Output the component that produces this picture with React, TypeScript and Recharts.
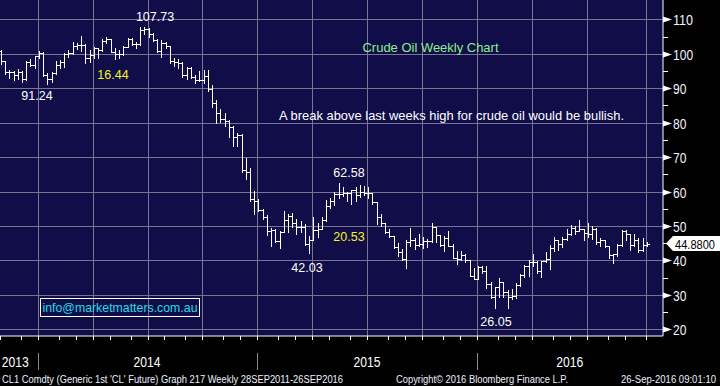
import React from "react";
import { ComposedChart, Bar, XAxis, YAxis } from "recharts";

// weekly CL1 bars, first bar = week of 25 Oct 2013, last = week of 26 Sep 2016
const opens = [
  100.8, 97.8, 94.6, 94.6, 93.8, 94.8, 92.7, 97.6, 96.6, 99.3,
  100.3, 93.9, 92.7, 94.4, 96.6, 97.5, 99.9, 100.3, 102.2, 102.6,
  102.6, 98.9, 99.5, 101.7, 101.1, 103.7, 104.3, 100.6, 99.8, 100.0,
  102.0, 104.4, 102.7, 102.7, 106.9, 107.3, 105.7, 104.1, 100.8, 103.1,
  102.1, 97.9, 97.7, 97.4, 93.7, 95.96, 93.3, 92.3, 92.4, 93.5,
  89.7, 85.8, 82.8, 81.0, 80.5, 78.7, 75.8, 76.5, 66.2, 65.8,
  57.8, 57.1, 54.7, 52.7, 48.4, 48.7, 45.6, 48.2, 51.7, 52.8,
  50.8, 49.8, 49.6, 44.8, 46.0, 48.9, 49.1, 51.6, 55.7, 57.2,
  59.2, 59.4, 59.7, 59.7, 60.3, 59.1, 60.0, 59.6, 59.6, 56.9,
  52.7, 50.9, 48.1, 47.1, 43.9, 42.5, 40.45, 45.2, 46.05, 44.6,
  44.7, 45.7, 45.5, 49.6, 47.3, 44.6, 46.6, 44.3, 40.7, 40.4,
  41.7, 39.97, 35.6, 34.7, 38.1, 37.0, 33.2, 29.4, 32.2, 33.6,
  30.9, 29.4, 29.6, 32.8, 35.9, 38.5, 39.4, 39.5, 36.8, 39.7,
  40.4, 43.7, 45.9, 44.7, 46.2, 47.75, 49.3, 48.6, 49.1, 47.98,
  47.6, 48.99, 45.4, 45.95, 44.2, 41.6, 41.8, 44.5, 48.5, 47.6,
  44.4, 45.9, 43.0, 44.5,
];
const highs = [
  101.0, 98.0, 95.3, 95.0, 95.6, 94.9, 97.9, 98.5, 99.4, 100.75,
  100.5, 94.3, 94.6, 97.8, 98.25, 100.2, 101.0, 103.4, 103.1, 105.2,
  102.8, 101.1, 102.0, 101.8, 104.4, 104.99, 104.4, 101.6, 101.0, 102.3,
  104.6, 104.6, 103.4, 107.7, 107.73, 107.5, 106.0, 104.2, 104.0, 103.5,
  102.2, 98.7, 98.4, 97.5, 96.2, 96.1, 93.9, 95.0, 95.2, 95.4,
  90.9, 86.7, 84.0, 82.8, 80.7, 79.0, 77.0, 76.6, 69.8, 66.8,
  60.2, 57.7, 55.0, 53.1, 49.4, 49.0, 48.5, 54.2, 53.5, 53.9,
  52.0, 51.3, 50.5, 47.1, 52.5, 50.9, 52.5, 57.4, 58.0, 59.9,
  62.58, 61.2, 60.0, 60.3, 61.4, 61.8, 61.6, 61.2, 59.7, 56.9,
  53.6, 51.0, 49.2, 47.2, 45.1, 43.2, 45.9, 49.3, 46.4, 47.7,
  46.7, 46.2, 50.9, 49.7, 47.4, 47.0, 48.4, 44.8, 42.6, 42.6,
  42.0, 40.0, 37.9, 38.4, 38.3, 38.4, 33.6, 32.3, 34.8, 33.7,
  31.5, 31.6, 33.4, 36.0, 38.7, 40.2, 41.9, 39.9, 39.8, 42.4,
  44.5, 46.8, 46.0, 46.7, 49.0, 50.2, 50.0, 51.67, 49.2, 50.9,
  49.9, 49.5, 46.5, 46.0, 44.3, 42.0, 44.8, 48.75, 48.9, 47.7,
  47.6, 46.5, 46.6, 45.2,
];
const lows = [
  96.9, 94.1, 93.0, 92.5, 92.6, 91.8, 92.5, 96.5, 96.0, 98.7,
  93.6, 91.24, 91.9, 94.0, 95.9, 96.1, 99.1, 100.0, 101.5, 100.8,
  97.4, 97.7, 98.7, 98.9, 100.8, 103.2, 100.5, 98.6, 98.9, 99.6,
  101.9, 102.4, 101.6, 102.4, 105.6, 104.9, 103.6, 100.6, 99.0, 101.6,
  97.3, 96.3, 95.9, 93.2, 92.6, 92.9, 91.6, 92.0, 91.5, 89.2,
  84.4, 79.8, 80.2, 79.0, 75.8, 73.3, 73.2, 65.7, 63.7, 57.3,
  53.6, 54.3, 52.0, 47.4, 44.2, 45.2, 43.6, 48.2, 48.3, 49.7,
  47.7, 48.2, 44.4, 42.03, 45.8, 46.7, 49.0, 51.5, 55.2, 56.1,
  58.1, 58.7, 57.1, 56.5, 57.2, 58.3, 59.0, 58.0, 56.5, 50.6,
  50.1, 47.9, 46.7, 43.6, 41.4, 40.2, 37.75, 44.1, 43.2, 44.2,
  43.6, 43.9, 45.4, 45.3, 44.3, 42.6, 44.1, 40.6, 38.9, 40.1,
  39.5, 35.4, 34.5, 34.6, 36.3, 32.1, 29.1, 26.19, 29.3, 29.25,
  26.05, 28.7, 29.0, 32.5, 35.3, 35.6, 38.3, 36.3, 35.2, 39.6,
  37.6, 42.8, 43.0, 43.8, 46.0, 47.5, 47.8, 48.5, 45.8, 46.7,
  46.2, 44.8, 44.3, 43.9, 40.6, 39.2, 41.4, 44.2, 46.0, 43.0,
  44.2, 42.5, 42.8, 44.3,
];
const closes = [
  97.85, 94.6, 94.6, 93.8, 94.8, 92.7, 97.65, 96.6, 99.3, 100.3,
  93.96, 92.7, 94.4, 96.6, 97.5, 99.9, 100.3, 102.2, 102.6, 102.6,
  98.9, 99.5, 101.7, 101.1, 103.7, 104.3, 100.6, 99.8, 100.0, 102.0,
  104.4, 102.7, 102.7, 106.9, 107.3, 105.7, 104.1, 100.8, 103.1, 102.1,
  97.9, 97.7, 97.4, 93.7, 95.96, 93.3, 92.3, 92.4, 93.5, 89.7,
  85.8, 82.8, 81.0, 80.5, 78.7, 75.8, 76.5, 66.2, 65.8, 57.8,
  57.1, 54.7, 52.7, 48.4, 48.7, 45.6, 48.2, 51.7, 52.8, 50.8,
  49.8, 49.6, 44.8, 46.0, 48.9, 49.1, 51.6, 55.7, 57.2, 59.2,
  59.4, 59.7, 59.7, 60.3, 59.1, 60.0, 59.6, 59.6, 56.9, 52.7,
  50.9, 48.1, 47.1, 43.9, 42.5, 40.45, 45.2, 46.05, 44.6, 44.7,
  45.7, 45.5, 49.6, 47.3, 44.6, 46.6, 44.3, 40.7, 40.4, 41.7,
  39.97, 35.6, 34.7, 38.1, 37.0, 33.2, 29.4, 32.2, 33.6, 30.9,
  29.4, 29.6, 32.8, 35.9, 38.5, 39.4, 39.5, 36.8, 39.7, 40.4,
  43.7, 45.9, 44.7, 46.2, 47.75, 49.3, 48.6, 49.1, 47.98, 47.6,
  48.99, 45.4, 45.95, 44.2, 41.6, 41.8, 44.5, 48.5, 47.6, 44.4,
  45.9, 43.0, 44.5, 44.88,
];

const lastPrice = 44.88;
const priceTicks = [20, 25, 30, 35, 40, 45, 50, 55, 60, 65, 70, 75, 80, 85, 90, 95, 100, 105, 110];
const gridLevels = [20, 30, 40, 50, 60, 70, 80, 90, 100, 110];
// index of the last weekly bar in each month / quarter
const monthEnds = [0, 5, 9, 14, 18, 22, 26, 31, 35, 39, 44, 48, 53, 57, 61, 66, 70, 74, 78, 83, 87, 92, 96, 100, 105, 109, 113, 118, 122, 126, 131, 135, 139, 144, 148, 153];
const quarterEnds = [9, 22, 35, 48, 61, 74, 87, 100, 113, 126, 139, 153];
const yearEnds = [9, 61, 113];
const years = ["2013", "2014", "2015", "2016"];
const yearMids = [3.4, 34.6, 86.7, 134.7];

const FONT = '"Liberation Sans", Arial, sans-serif';
const PLOT_RIGHT = 663;
const AXIS_Y = 336;
const X_DOMAIN: [number, number] = [-0.237, 156.8];
const Y_DOMAIN: [number, number] = [18.05, 115.6];
const TICK_SHIFT = -0.3;
const GRID = "#77758f";

const rows = closes.map((c, i) => ({
  i,
  range: [lows[i], highs[i]],
  o: opens[i],
  h: highs[i],
  l: lows[i],
  c,
}));

// same linear mapping the axes use (plot area 0..663 x 0..336), for the background grid
const gx = (v: number) => Math.round(((v - X_DOMAIN[0]) / (X_DOMAIN[1] - X_DOMAIN[0])) * PLOT_RIGHT) + 0.5;
const gy = (v: number) => Math.round(((Y_DOMAIN[1] - v) / (Y_DOMAIN[1] - Y_DOMAIN[0])) * AXIS_Y) + 0.5;

const OhlcShape = (props: any) => {
  const { x, y, width, height, payload } = props;
  if (x == null || y == null) return null;
  const top = Math.min(y, y + height);
  const bot = Math.max(y, y + height);
  const span = payload.h - payload.l;
  const toY = (v: number) => (span > 0 ? top + ((payload.h - v) / span) * (bot - top) : top);
  const cx = Math.floor(x + width / 2) + 0.5;
  const oy = Math.round(toY(payload.o)) + 0.5;
  const cy = Math.round(toY(payload.c)) + 0.5;
  return (
    <g stroke="#ffffff" strokeWidth={1} shapeRendering="crispEdges">
      <line x1={cx} x2={cx} y1={Math.round(top)} y2={Math.round(bot) + 1} />
      <line x1={cx - 2.5} x2={cx} y1={oy} y2={oy} />
      <line x1={cx} x2={cx + 2.5} y1={cy} y2={cy} />
    </g>
  );
};

const MonthTick = ({ x }: any) => {
  const px = Math.round(x) + 0.5;
  return <line x1={px} x2={px} y1={AXIS_Y} y2={AXIS_Y + 4} stroke="#ffffff" shapeRendering="crispEdges" />;
};

const YearTick = ({ x, payload }: any) => {
  const k = yearMids.indexOf(payload.value);
  if (k >= 0) {
    return (
      <text x={x} y={367} textAnchor="middle" fill="#ffffff" fontFamily={FONT} fontSize={14}
        textLength={27} lengthAdjust="spacingAndGlyphs">
        {years[k]}
      </text>
    );
  }
  const px = Math.round(x) + 0.5;
  return <line x1={px} x2={px} y1={353} y2={370} stroke="#8a8a8a" shapeRendering="crispEdges" />;
};

const PriceTick = ({ y, payload }: any) => {
  const v = payload.value;
  if (v === lastPrice) {
    const x0 = PLOT_RIGHT + 3;
    return (
      <g>
        <polygon
          points={`${x0},${y} ${x0 + 7},${y - 7.5} 720,${y - 7.5} 720,${y + 7.5} ${x0 + 7},${y + 7.5}`}
          fill="#ffffff"
        />
        <text x={675} y={y + 5} fill="#000000" fontFamily={FONT} fontSize={13}
          textLength={40} lengthAdjust="spacingAndGlyphs">
          {lastPrice.toFixed(4)}
        </text>
      </g>
    );
  }
  const py = Math.round(y) + 0.5;
  if (v % 10 !== 0) {
    return <line x1={PLOT_RIGHT} x2={PLOT_RIGHT + 5} y1={py} y2={py} stroke="#ffffff" shapeRendering="crispEdges" />;
  }
  const label = String(v);
  return (
    <g>
      <polygon points={`${PLOT_RIGHT},${py - 3} ${PLOT_RIGHT},${py + 3} ${PLOT_RIGHT + 9},${py}`} fill="#ffffff" />
      <text x={673} y={py + 5} fill="#f2f4ff" fontFamily={FONT} fontSize={14}
        textLength={label.length * 6.7} lengthAdjust="spacingAndGlyphs">
        {label}
      </text>
    </g>
  );
};

export default function App() {
  return (
    <div style={{ position: "relative", width: 720, height: 386, background: "#000", overflow: "hidden" }}>
      <style>{"body{margin:0;background:#000}"}</style>
      {/* navy plot panel + grid behind the transparent chart svg */}
      <svg width={720} height={386} style={{ position: "absolute", left: 0, top: 0 }}>
        <rect x={0} y={0} width={PLOT_RIGHT} height={AXIS_Y} fill="#100d48" />
        <g stroke={GRID} strokeWidth={1} shapeRendering="crispEdges">
          {gridLevels.map((v) => (
            <line key={`h${v}`} x1={0} x2={PLOT_RIGHT} y1={gy(v)} y2={gy(v)} />
          ))}
          {quarterEnds.map((q) => (
            <line key={`v${q}`} x1={gx(q + TICK_SHIFT)} x2={gx(q + TICK_SHIFT)} y1={0} y2={AXIS_Y} />
          ))}
        </g>
      </svg>
      <div style={{ position: "absolute", left: 0, top: 0 }}>
        <ComposedChart width={720} height={386} data={rows} margin={{ top: 0, right: 0, bottom: 0, left: 0 }}>
          <XAxis
            dataKey="i"
            type="number"
            domain={X_DOMAIN}
            allowDataOverflow
            ticks={monthEnds.map((m) => m + TICK_SHIFT)}
            interval={0}
            tick={<MonthTick />}
            tickLine={false}
            axisLine={{ stroke: "#ffffff" }}
            height={49}
          />
          <XAxis
            xAxisId="yr"
            dataKey="i"
            type="number"
            domain={X_DOMAIN}
            allowDataOverflow
            ticks={[...yearMids, ...yearEnds.map((e) => e + TICK_SHIFT)]}
            interval={0}
            tick={<YearTick />}
            tickLine={false}
            axisLine={false}
            height={1}
          />
          <YAxis
            orientation="right"
            type="number"
            domain={Y_DOMAIN}
            allowDataOverflow
            ticks={[...priceTicks, lastPrice]}
            interval={0}
            tick={<PriceTick />}
            tickLine={false}
            axisLine={{ stroke: "#ffffff" }}
            width={57}
          />
          <Bar dataKey="range" barSize={3} shape={<OhlcShape />} isAnimationActive={false} />
        </ComposedChart>
      </div>

      <svg width={720} height={386} style={{ position: "absolute", left: 0, top: 0, pointerEvents: "none" }}
        fontFamily={FONT}>
        <text x={155} y={20.5} textAnchor="middle" fill="#ffffff" fontSize={12.5}>107.73</text>
        <text x={37} y={99.5} textAnchor="middle" fill="#ffffff" fontSize={12.5}>91.24</text>
        <text x={113} y={79} textAnchor="middle" fill="#f4f41e" fontSize={12.5}>16.44</text>
        <text x={362.5} y={51.5} fill="#8cf08c" fontSize={13} textLength={136} lengthAdjust="spacingAndGlyphs">
          Crude Oil Weekly Chart
        </text>
        <text x={279} y={119.5} fill="#ffffff" fontSize={13} textLength={345} lengthAdjust="spacingAndGlyphs">
          A break above last weeks high for crude oil would be bullish.
        </text>
        <text x={349} y={177} textAnchor="middle" fill="#ffffff" fontSize={12.5}>62.58</text>
        <text x={349} y={240.5} textAnchor="middle" fill="#f4f41e" fontSize={12.5}>20.53</text>
        <text x={307} y={271.5} textAnchor="middle" fill="#ffffff" fontSize={12.5}>42.03</text>
        <text x={496} y={325.5} textAnchor="middle" fill="#ffffff" fontSize={12.5}>26.05</text>

        <rect x={40.5} y={298.5} width={159} height={18} fill="none" stroke="#ffffff" />
        <text x={42.5} y={311.5} fill="#22dde8" fontSize={13} textLength={155} lengthAdjust="spacingAndGlyphs">
          info@marketmatters.com.au
        </text>

        <text x={2} y={382.5} fill="#eef0ff" fontSize={10} textLength={341} lengthAdjust="spacingAndGlyphs">
          CL1 Comdty (Generic 1st 'CL' Future) Graph 217  Weekly 28SEP2011-26SEP2016
        </text>
        <text x={396} y={382.5} fill="#eef0ff" fontSize={10} textLength={172} lengthAdjust="spacingAndGlyphs">
          Copyright© 2016 Bloomberg Finance L.P.
        </text>
        <text x={621} y={382.5} fill="#eef0ff" fontSize={10} textLength={95} lengthAdjust="spacingAndGlyphs">
          26-Sep-2016 09:01:10
        </text>
      </svg>
    </div>
  );
}
